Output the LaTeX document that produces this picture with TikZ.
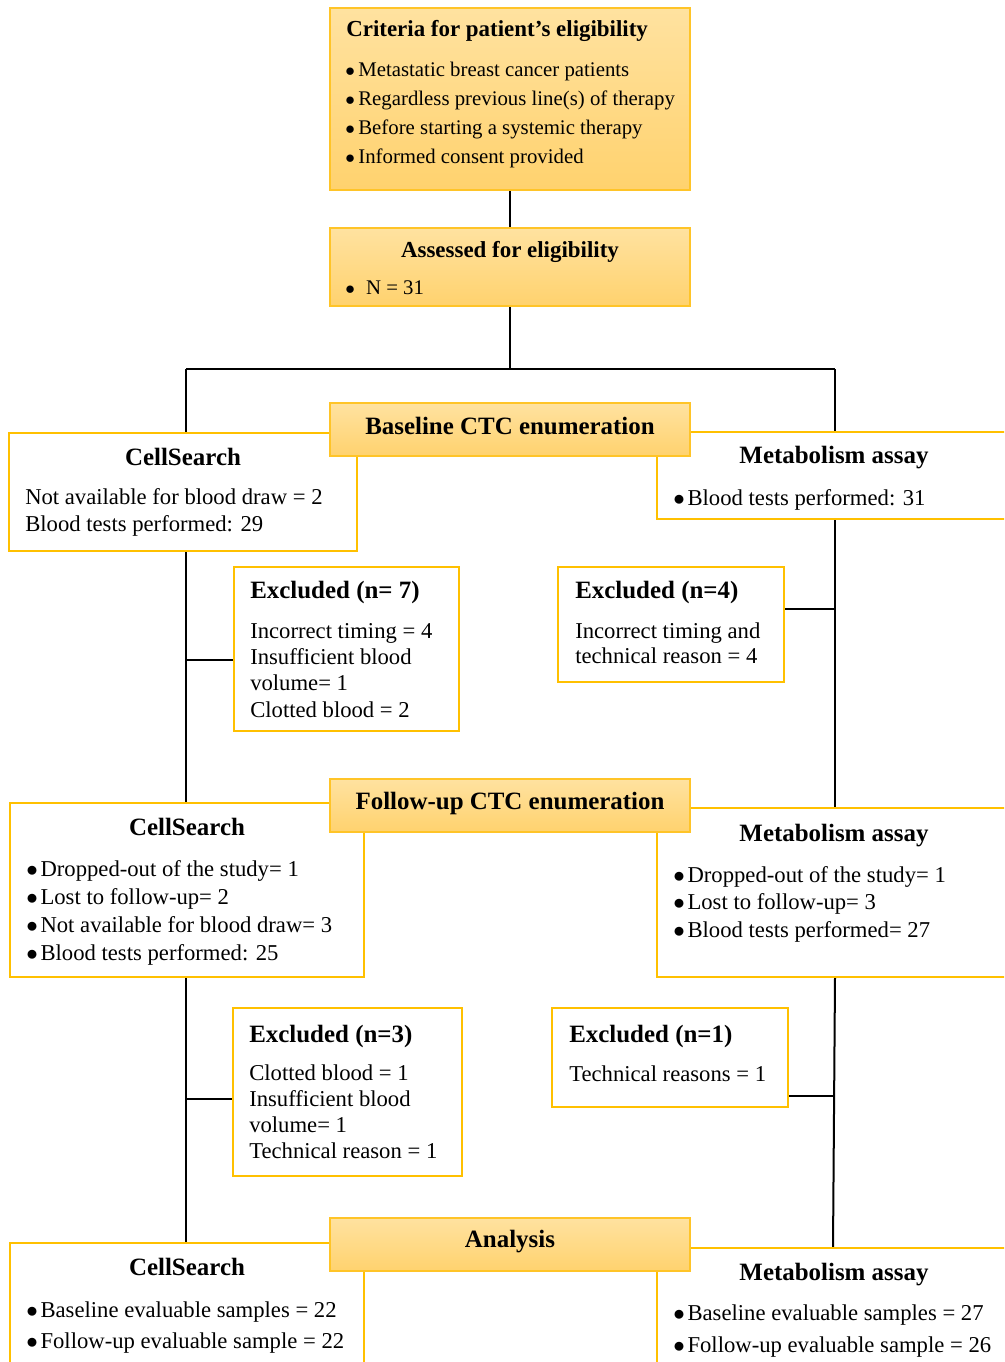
\documentclass[tikz,border=0pt]{standalone}
\usepackage{fontspec}
\setmainfont{Liberation Serif}
\usetikzlibrary{backgrounds}
\definecolor{gold}{RGB}{255,192,0}
\definecolor{hdrtop}{RGB}{255,226,160}
\definecolor{hdrbot}{RGB}{255,210,110}
\definecolor{hdredge}{RGB}{255,196,40}
\newcommand\fbody{\fontsize{17}{20}\selectfont}
\newcommand\fhead{\fontsize{18.7}{22}\selectfont\bfseries}
\newcommand\fcrit{\fontsize{15.6}{18}\selectfont}
\newcommand\fctitle{\fontsize{17.2}{20}\selectfont\bfseries}
\newcommand\bul{\makebox[0.63em][l]{$\bullet$}}
\begin{document}
\begin{tikzpicture}[x=0.75pt,y=-0.75pt,
  hdr/.style={draw=hdredge,line width=1.1pt,top color=hdrtop,bottom color=hdrbot,anchor=north west,inner sep=0pt,outer sep=0pt},
  side/.style={draw=gold,line width=1.9pt,fill=white,anchor=north west,inner sep=0pt,outer sep=0pt},
  conn/.style={line width=1.5pt,black},
  tb/.style={anchor=base west,inner sep=0pt,font=\fbody},
  tc/.style={anchor=base west,inner sep=0pt,font=\fcrit},
  th/.style={anchor=base,inner sep=0pt,font=\fhead},
  thl/.style={anchor=base west,inner sep=0pt,font=\fhead}]
\useasboundingbox (0,0) rectangle (1004,1362);
\clip (0,0) rectangle (1004,1362);

% side boxes
\node[side,minimum width=348*0.75pt,minimum height=118*0.75pt] (cs1) at (9,433) {};
\node[side,minimum width=360*0.75pt,minimum height=87*0.75pt] (mb1) at (657,432) {};
\node[side,minimum width=225*0.75pt,minimum height=164*0.75pt] (ex7) at (234,567) {};
\node[side,minimum width=226*0.75pt,minimum height=115*0.75pt] (ex4) at (558,567) {};
\node[side,minimum width=354*0.75pt,minimum height=174*0.75pt] (cs2) at (10,803) {};
\node[side,minimum width=360*0.75pt,minimum height=169*0.75pt] (mb2) at (657,808) {};
\node[side,minimum width=229*0.75pt,minimum height=168*0.75pt] (ex3) at (233,1008) {};
\node[side,minimum width=236*0.75pt,minimum height=99*0.75pt] (ex1) at (552,1008) {};
\node[side,minimum width=354*0.75pt,minimum height=140*0.75pt] (cs3) at (10,1243) {};
\node[side,minimum width=360*0.75pt,minimum height=140*0.75pt] (mb3) at (657,1248) {};

% header boxes
\node[hdr,minimum width=360*0.75pt,minimum height=182*0.75pt] (crit) at (330,8) {};
\node[hdr,minimum width=360*0.75pt,minimum height=78*0.75pt] (assess) at (330,228) {};
\node[hdr,minimum width=360*0.75pt,minimum height=53*0.75pt] (base) at (330,403) {};
\node[hdr,minimum width=360*0.75pt,minimum height=53*0.75pt] (fu) at (330,779) {};
\node[hdr,minimum width=360*0.75pt,minimum height=53*0.75pt] (an) at (330,1218) {};

% connectors
\begin{scope}[on background layer]
\coordinate (jL) at (186,369);
\coordinate (jR) at (835,369);
\draw[conn] (crit.south) -- (assess.north);
\draw[conn] (assess.south) -- (assess.south |- jL);
\draw[conn] (jL) -- (jR);
\draw[conn] (jL) -- (jL |- cs1.north);
\draw[conn] (jR) -- (jR |- mb1.north);
\draw[conn] (jL |- cs1.south) -- (jL |- cs2.north);
\coordinate (b7) at (186,660);
\draw[conn] (b7) -- (b7 -| ex7.west);
\draw[conn] (jR |- mb1.south) -- (jR |- mb2.north);
\coordinate (b4) at (835,609);
\draw[conn] (b4) -- (b4 -| ex4.east);
\draw[conn] (jL |- cs2.south) -- (jL |- cs3.north);
\coordinate (b3) at (186,1099);
\draw[conn] (b3) -- (b3 -| ex3.west);
\coordinate (rB) at (833,1248);
\draw[conn] (jR |- mb2.south) -- (rB |- mb3.north);
\coordinate (b1) at (834,1096);
\draw[conn] (b1) -- (b1 -| ex1.east);
\end{scope}

% texts: criteria
\node[anchor=base west,inner sep=0pt,font=\fctitle] (critT) at (346,37) {Criteria for patient’s eligibility};
\node[tc] (crit1) at (345,77) {\bul Metastatic breast cancer patients};
\node[tc] (crit2) at (345,106) {\bul Regardless previous line(s) of therapy};
\node[tc] (crit3) at (345,135) {\bul Before starting a systemic therapy};
\node[tc] (crit4) at (345,164) {\bul Informed consent provided};
% assessed
\node[anchor=base,inner sep=0pt,font=\fctitle] (assT) at (510,258) {Assessed for eligibility};
\node[tc] (ass1) at (345,295) {\makebox[1em][l]{$\bullet$}N = 31};
% headers
\node[th] (baseT) at (510,434) {Baseline CTC enumeration};
\node[th] (fuT) at (510,809) {Follow-up CTC enumeration};
\node[th] (anT) at (510,1247) {Analysis};
% cellsearch 1
\node[th] (cs1T) at (183,465) {CellSearch};
\node[tb] (cs1a) at (25,504) {Not available for blood draw = 2};
\node[tb] (cs1b) at (25,531) {Blood tests performed: 29};
% metabolism 1
\node[th] (mb1T) at (834,463) {Metabolism assay};
\node[tb] (mb1a) at (673,505) {\bul Blood tests performed: 31};
% excluded 7
\node[thl] (ex7T) at (250,598) {Excluded (n= 7)};
\node[tb] (ex7a) at (250,638) {Incorrect timing = 4};
\node[tb] (ex7b) at (250,664) {Insufficient blood};
\node[tb] (ex7c) at (250,690) {volume= 1};
\node[tb] (ex7d) at (250,717) {Clotted blood = 2};
% excluded 4
\node[thl] (ex4T) at (575,598) {Excluded (n=4)};
\node[tb] (ex4a) at (575,638) {Incorrect timing and};
\node[tb] (ex4b) at (575,663) {technical reason = 4};
% cellsearch 2
\node[th] (cs2T) at (187,835) {CellSearch};
\node[tb] (cs2a) at (26,876) {\bul Dropped-out of the study= 1};
\node[tb] (cs2b) at (26,904) {\bul Lost to follow-up= 2};
\node[tb] (cs2c) at (26,932) {\bul Not available for blood draw= 3};
\node[tb] (cs2d) at (26,960) {\bul Blood tests performed: 25};
% metabolism 2
\node[th] (mb2T) at (834,841) {Metabolism assay};
\node[tb] (mb2a) at (673,882) {\bul Dropped-out of the study= 1};
\node[tb] (mb2b) at (673,909) {\bul Lost to follow-up= 3};
\node[tb] (mb2c) at (673,937) {\bul Blood tests performed= 27};
% excluded 3
\node[thl] (ex3T) at (249,1042) {Excluded (n=3)};
\node[tb] (ex3a) at (249,1080) {Clotted blood = 1};
\node[tb] (ex3b) at (249,1106) {Insufficient blood};
\node[tb] (ex3c) at (249,1132) {volume= 1};
\node[tb] (ex3d) at (249,1158) {Technical reason = 1};
% excluded 1
\node[thl] (ex1T) at (569,1042) {Excluded (n=1)};
\node[tb] (ex1a) at (569,1081) {Technical reasons = 1};
% cellsearch 3
\node[th] (cs3T) at (187,1275) {CellSearch};
\node[tb] (cs3a) at (26,1317) {\bul Baseline evaluable samples = 22};
\node[tb] (cs3b) at (26,1348) {\bul Follow-up evaluable sample = 22};
% metabolism 3
\node[th] (mb3T) at (834,1280) {Metabolism assay};
\node[tb] (mb3a) at (673,1320) {\bul Baseline evaluable samples = 27};
\node[tb] (mb3b) at (673,1352) {\bul Follow-up evaluable sample = 26};
\end{tikzpicture}
\end{document}
